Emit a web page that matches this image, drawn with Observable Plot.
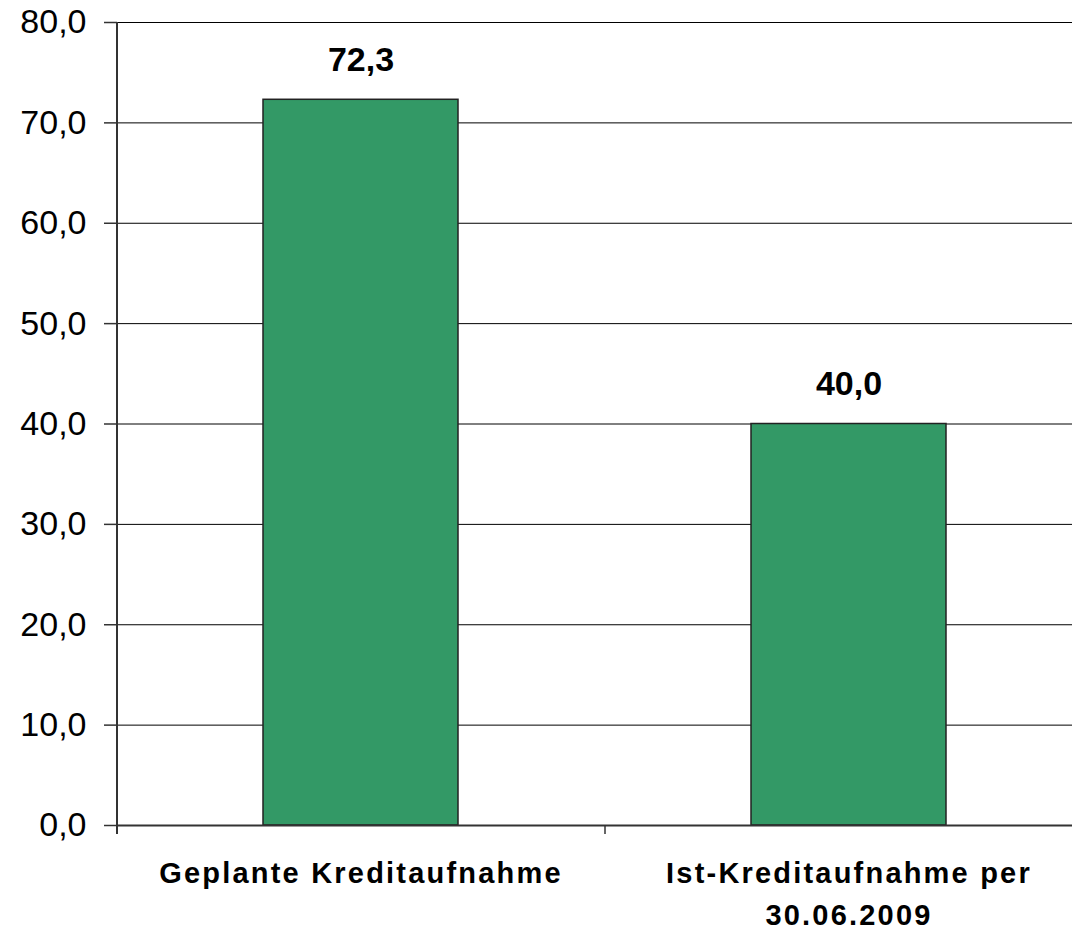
<!DOCTYPE html>
<html><head><meta charset="utf-8">
<script src="https://cdn.jsdelivr.net/npm/d3@7"></script>
<script src="https://cdn.jsdelivr.net/npm/@observablehq/plot@0.6"></script>
<style>
body{margin:0;background:#fff;overflow:hidden;}
</style>
</head><body><div id="chart"></div>
<script>
const categories = ["Geplante Kreditaufnahme", "Ist-Kreditaufnahme per\n30.06.2009"];
const values = [72.3, 40.0];
const valueLabels = ["72,3", "40,0"];
const yTicks = [0, 10, 20, 30, 40, 50, 60, 70, 80];

const data = categories.map((c, i) => ({category: c, value: values[i], label: valueLabels[i]}));
const fmt = d => d.toFixed(1).replace(".", ",");
const font = "'Liberation Sans', Arial, sans-serif";

const chart = Plot.plot({
  width: 1072,
  height: 929,
  marginTop: 22,
  marginBottom: 104,
  marginLeft: 117,
  marginRight: 0,
  style: {fontFamily: font, background: "white", color: "black"},
  x: {domain: categories, range: [117, 1093], paddingInner: 0.6, paddingOuter: 0.3, axis: null},
  y: {domain: [0, 80], axis: null},
  marks: [
    Plot.ruleY(yTicks.filter(d => d > 0), {stroke: "black", strokeWidth: 1}),
    Plot.axisY(yTicks, {label: null, tickSize: 13, tickPadding: 18, fontSize: 34, tickFormat: fmt, stroke: "#333", strokeWidth: 1.5}),
    Plot.barY(data, {x: "category", y: "value", fill: "#339966", stroke: "#222", strokeWidth: 1.5}),
    Plot.ruleY([0], {stroke: "#333", strokeWidth: 2}),
    Plot.ruleX([categories[0]], {x: d => d, dx: -244, y1: 80, y2: -0.9, stroke: "#333", strokeWidth: 2}),
    Plot.ruleX(categories, {x: d => d, dx: -244, y1: 0, y2: -0.9, stroke: "#333", strokeWidth: 1.5}),
    Plot.text(data, {x: "category", y: "value", text: "label", dy: -29, lineAnchor: "bottom", fontSize: 34, fontWeight: "bold", fill: "black"}),
    Plot.text(data, {x: "category", y: 0, text: "category", dy: 28, lineAnchor: "top", lineHeight: 1.45, fontSize: 29, fontWeight: "bold", fill: "black"})
  ]
});
d3.select(chart).selectAll("g")
  .filter(function() { return this.getAttribute("font-size") === "29"; })
  .attr("letter-spacing", "2.2px");
document.getElementById("chart").appendChild(chart);
</script>
</body></html>
